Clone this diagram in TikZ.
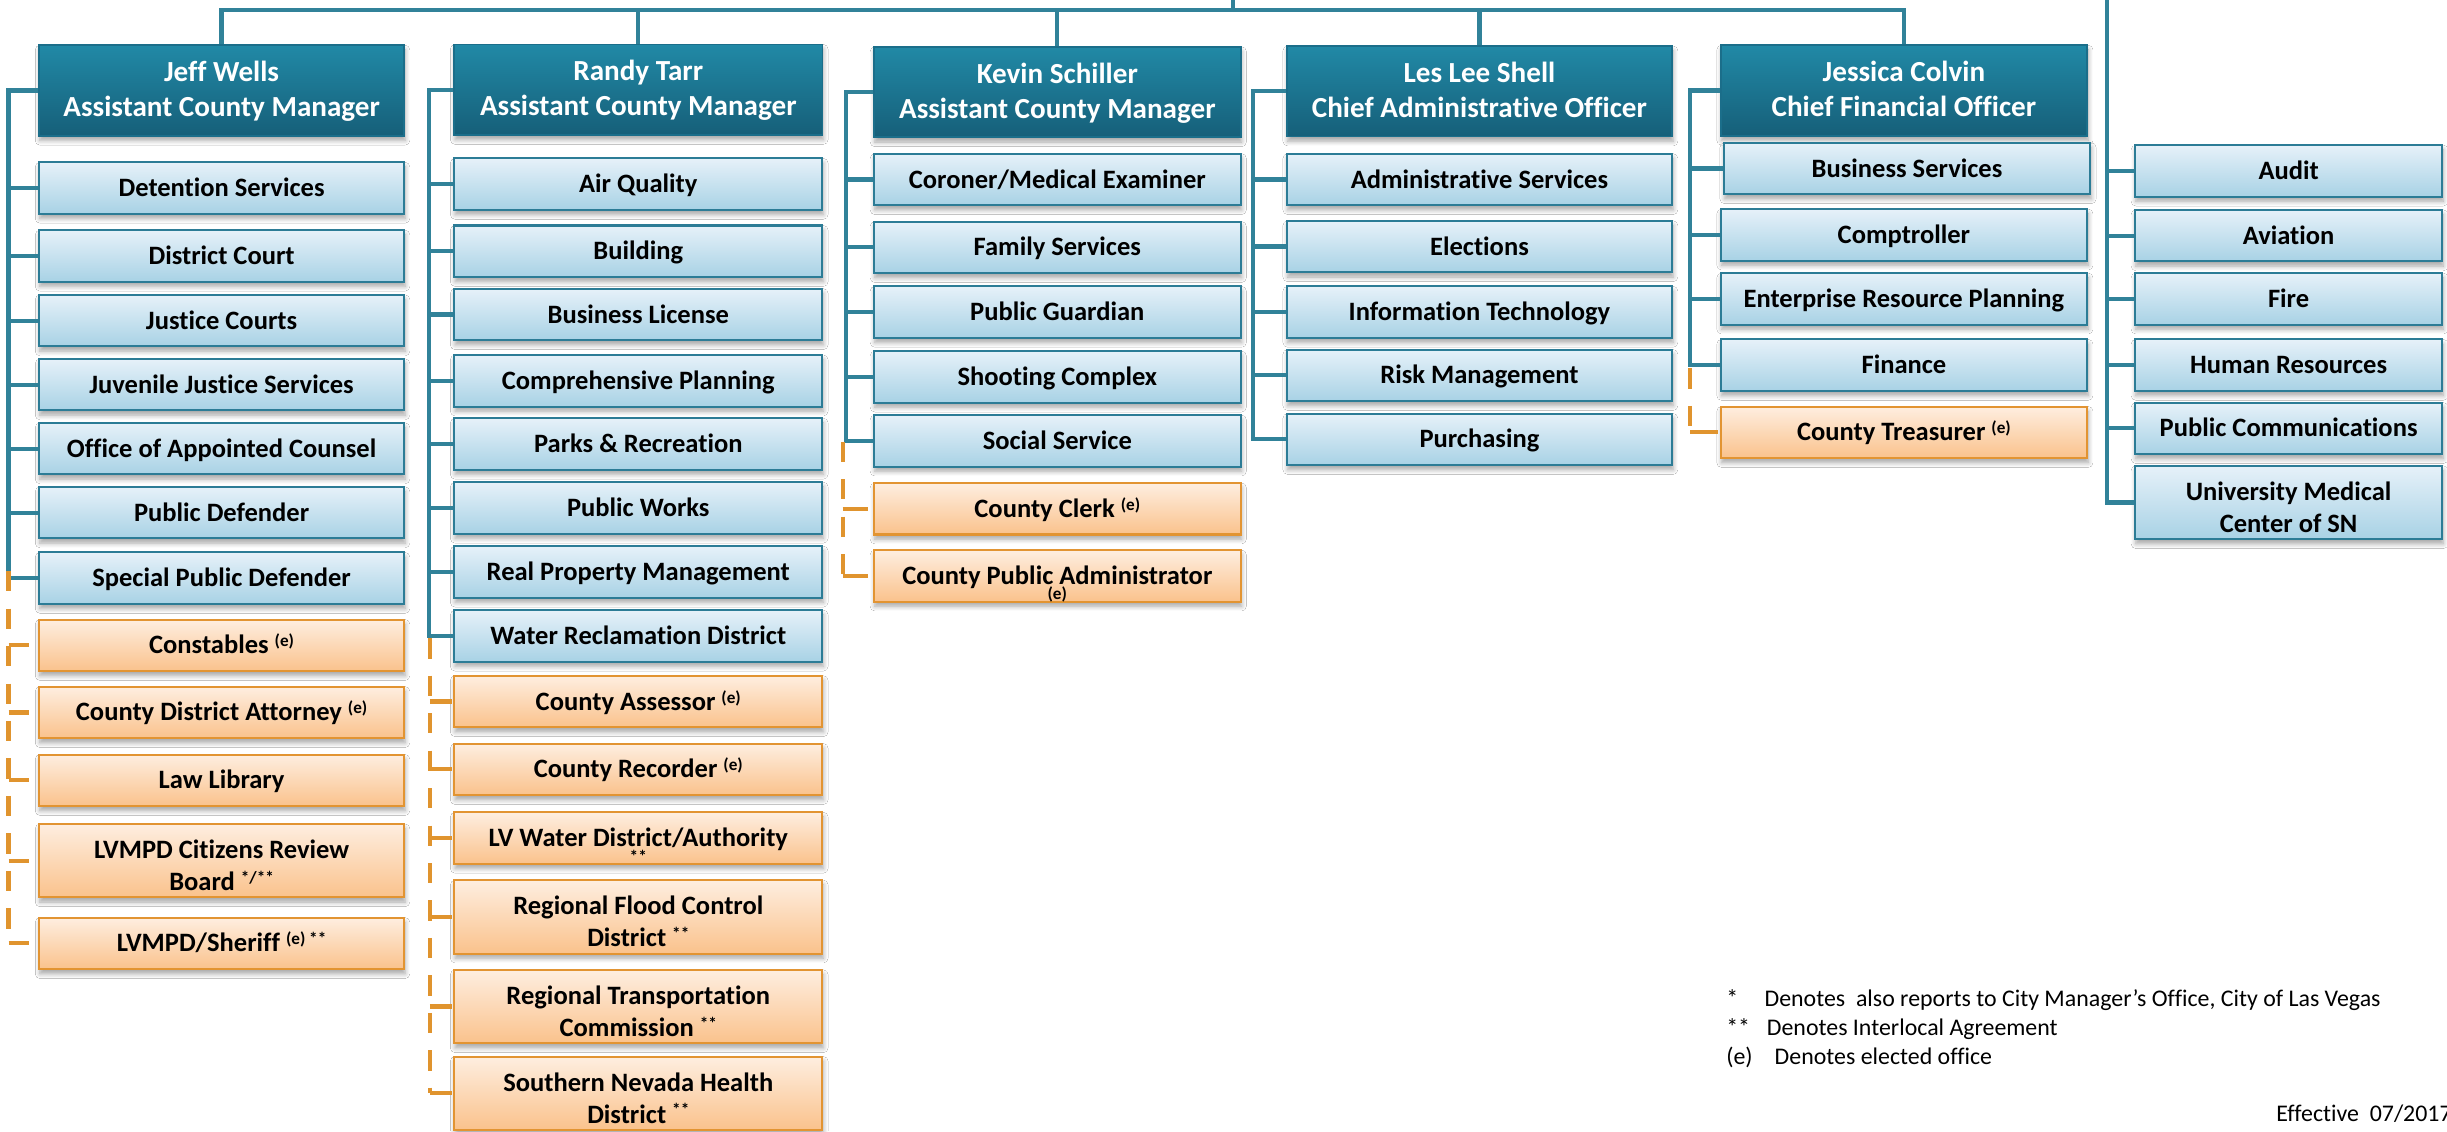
\documentclass[tikz,border=0pt]{standalone}
\usepackage{fontspec}
\setmainfont{Carlito}[Ligatures=NoCommon]
\usetikzlibrary{shadows.blur,calc}
\definecolor{hdrtop}{RGB}{33,137,166}
\definecolor{hdrbot}{RGB}{22,95,121}
\definecolor{hdrline}{RGB}{27,110,138}
\definecolor{subtop}{RGB}{230,241,249}
\definecolor{subbot}{RGB}{168,210,229}
\definecolor{subline}{RGB}{44,124,150}
\definecolor{eletop}{RGB}{254,238,224}
\definecolor{elebot}{RGB}{250,194,140}
\definecolor{eleline}{RGB}{226,148,50}
\definecolor{conblue}{RGB}{49,130,153}
\definecolor{conorange}{RGB}{224,148,46}
\newcommand\supx[1]{\raisebox{4.5pt}{\fontsize{11}{12}\selectfont #1}}
\newcommand\subx[1]{{\fontsize{11}{12}\selectfont #1}}
\tikzset{
  boxbase/.style={rectangle, inner sep=0pt, align=center,
    blur shadow={shadow xshift=0.6pt, shadow yshift=-3pt, shadow blur radius=3pt, shadow blur steps=6, shadow opacity=35}},
  hdr/.style={boxbase, draw=hdrline, line width=1.2pt, top color=hdrtop, bottom color=hdrbot,
    text=white, font=\fontsize{18.66}{22.4}\selectfont\bfseries, text height=33.6pt, text depth=0pt, minimum height=58pt},
  one/.style={boxbase, draw=subline, line width=1.3pt, top color=subtop, bottom color=subbot,
    text=black, font=\fontsize{17}{20.3}\selectfont\bfseries, text height=11pt, text depth=0pt, minimum height=33pt},
  two/.style={one, text height=38.2pt, text depth=0pt, minimum height=47pt},
  under/.style={text height=30.8pt, text depth=0pt},
  ele/.style={draw=eleline, top color=eletop, bottom color=elebot},
  cJ/.style={minimum width=234pt},
  cR/.style={minimum width=236pt},
  cK/.style={minimum width=235pt},
  cL/.style={minimum width=247pt},
  cC/.style={minimum width=235pt},
  cA/.style={minimum width=197pt},
  conn/.style={draw=conblue, line width=2.7pt},
  dconn/.style={draw=conorange, line width=2.7pt, dash pattern=on 13pt off 11pt},
  ostub/.style={draw=conorange, line width=2.7pt},
  legend/.style={inner sep=0pt, font=\fontsize{15.3}{19}\selectfont, text=black},
}
\begin{document}
\begin{tikzpicture}[x=1pt,y=-1pt]
\useasboundingbox (0,0) rectangle (1568,725);
\fill[white] (0,0) rectangle (1568,725);

% coordinates
\coordinate (bar) at (0,6.5);
\coordinate (mgr) at (790,0);
\coordinate (rsp) at (1350,0);
\coordinate (spJ) at (5.5,0);
\coordinate (spR) at (275,0);
\coordinate (spK) at (542,0);
\coordinate (spL) at (803,0);
\coordinate (spC) at (1083,0);
\coordinate (oJ) at (5.5,366);
\coordinate (oR) at (275.5,409);
\coordinate (oK) at (540,283);
\coordinate (oC) at (1083,236);

% headers
\node[hdr, cJ] (jw) at (142,58) {Jeff Wells\\Assistant County Manager};
\node[hdr, cR] (rt) at (409,57.5) {Randy Tarr\\Assistant County Manager};
\node[hdr, cK] (ks) at (677.5,59) {Kevin Schiller\\Assistant County Manager};
\node[hdr, cL] (ls) at (948,58.5) {Les Lee Shell\\Chief Administrative Officer};
\node[hdr, cC] (jc) at (1220,58) {Jessica Colvin\\Chief Financial Officer};

% Jeff Wells column
\node[one, cJ] (det) at (142,120.5) {Detention Services};
\node[one, cJ] (dcrt) at (142,164) {District Court};
\node[one, cJ] (jcts) at (142,205.5) {Justice Courts};
\node[one, cJ] (jjs) at (142,246.5) {Juvenile Justice Services};
\node[one, cJ] (oac) at (142,287.5) {Office of Appointed Counsel};
\node[one, cJ] (pd) at (142,328.5) {Public Defender};
\node[one, cJ] (spd) at (142,370.5) {Special Public Defender};
\node[one, ele, cJ] (con) at (142,413.5) {Constables \supx{(e)}};
\node[one, ele, cJ] (cda) at (142,456.5) {County District Attorney \supx{(e)}};
\node[one, ele, cJ] (llib) at (142,500) {Law Library};
\node[two, ele, cJ] (crb) at (142,551.5) {LVMPD Citizens Review\\Board \supx{*/**}};
\node[one, ele, cJ] (sher) at (142,604.5) {LVMPD/Sheriff \supx{(e) **}};

% Randy Tarr column
\node[one, cR] (aq) at (409,118) {Air Quality};
\node[one, cR] (bld) at (409,161) {Building};
\node[one, cR] (blic) at (409,201.5) {Business License};
\node[one, cR] (cpl) at (409,244) {Comprehensive Planning};
\node[one, cR] (prec) at (409,284.5) {Parks \& Recreation};
\node[one, cR] (pw) at (409,325.5) {Public Works};
\node[one, cR] (rpm) at (409,366.5) {Real Property Management};
\node[one, cR] (wrd) at (409,407.5) {Water Reclamation District};
\node[one, ele, cR] (cas) at (409,449.5) {County Assessor \supx{(e)}};
\node[one, ele, cR] (crec) at (409,493) {County Recorder \supx{(e)}};
\node[one, ele, cR, under] (lvw) at (409,537) {LV Water District/Authority\\[-10.5pt]\subx{**}};
\node[two, ele, cR] (rfc) at (409,587.5) {Regional Flood Control\\District \supx{**}};
\node[two, ele, cR] (rtc) at (409,645) {Regional Transportation\\Commission \supx{**}};
\node[two, ele, cR] (snhd) at (409,700.5) {Southern Nevada Health\\District \supx{**}};

% Kevin Schiller column
\node[one, cK] (cme) at (677.5,115) {Coroner/Medical Examiner};
\node[one, cK] (fsv) at (677.5,158.5) {Family Services};
\node[one, cK] (pgd) at (677.5,200) {Public Guardian};
\node[one, cK] (scx) at (677.5,241.5) {Shooting Complex};
\node[one, cK] (ssv) at (677.5,282.5) {Social Service};
\node[one, ele, cK] (ccl) at (677.5,326) {County Clerk \supx{(e)}};
\node[one, ele, cK, under] (cpa) at (677.5,369) {County Public Administrator\\[-10.3pt]\subx{(e)}};

% Les Lee Shell column
\node[one, cL] (asv) at (948,115) {Administrative Services};
\node[one, cL] (elc) at (948,158) {Elections};
\node[one, cL] (itc) at (948,200) {Information Technology};
\node[one, cL] (rmg) at (948,240.5) {Risk Management};
\node[one, cL] (pur) at (948,281.5) {Purchasing};

% Jessica Colvin column
\node[one, cC] (bsv) at (1222,108) {Business Services};
\node[one, cC] (cmp) at (1220,150.5) {Comptroller};
\node[one, cC] (erp) at (1220,191.5) {Enterprise Resource Planning};
\node[one, cC] (fin) at (1220,234) {Finance};
\node[one, ele, cC] (ctr) at (1220,277) {County Treasurer \supx{(e)}};

% right column
\node[one, cA] (aud) at (1466.5,109.5) {Audit};
\node[one, cA] (avi) at (1466.5,151) {Aviation};
\node[one, cA] (fire) at (1466.5,191.5) {Fire};
\node[one, cA] (hres) at (1466.5,234) {Human Resources};
\node[one, cA] (pcom) at (1466.5,274.5) {Public Communications};
\node[two, cA] (umc) at (1466.5,322) {University Medical\\Center of SN};

% top connectors
\draw[conn] (jw.north) -- (jw.north |- bar) -- (jc.north |- bar) -- (jc.north);
\draw[conn] (mgr) -- (mgr |- bar);
\foreach \n in {rt,ks,ls} \draw[conn] (\n.north) -- (\n.north |- bar);
\draw[conn] (rsp) |- (umc.west);
\foreach \n in {aud,avi,fire,hres,pcom} \draw[conn] (\n.west) -- (\n.west -| rsp);

% Jeff connectors
\draw[conn] (jw.west) -| (spd.west -| spJ) -- (spd.west);
\foreach \n in {det,dcrt,jcts,jjs,oac,pd} \draw[conn] (\n.west) -- (\n.west -| spJ);
\draw[dconn] (oJ) -- (sher.west -| oJ);
\foreach \n in {con,cda,llib,crb,sher} \draw[ostub] (\n.west -| oJ) -- ($(\n.west)+(-6,0)$);

% Randy connectors
\draw[conn] (rt.west) -| (wrd.west -| spR) -- (wrd.west);
\foreach \n in {aq,bld,blic,cpl,prec,pw,rpm} \draw[conn] (\n.west) -- (\n.west -| spR);
\draw[dconn] (oR) -- (snhd.west -| oR);
\foreach \n in {cas,crec,lvw,rfc,rtc,snhd} \draw[ostub] (\n.west -| oR) -- ($(\n.west)+(-1,0)$);

% Kevin connectors
\draw[conn] (ks.west) -| (ssv.west -| spK) -- (ssv.west);
\foreach \n in {cme,fsv,pgd,scx} \draw[conn] (\n.west) -- (\n.west -| spK);
\draw[dconn] (oK) -- (cpa.west -| oK);
\foreach \n in {ccl,cpa} \draw[ostub] (\n.west -| oK) -- ($(\n.west)+(-3,0)$);

% Les connectors
\draw[conn] (ls.west) -| (pur.west -| spL) -- (pur.west);
\foreach \n in {asv,elc,itc,rmg} \draw[conn] (\n.west) -- (\n.west -| spL);

% Jessica connectors
\draw[conn] (jc.west) -| (fin.west -| spC) -- (fin.west);
\foreach \n in {bsv,cmp,erp} \draw[conn] (\n.west) -- (\n.west -| spC);
\draw[dconn] (oC) -- (ctr.west -| oC);
\draw[ostub] (ctr.west -| oC) -- ($(ctr.west)+(-1,0)$);

% legend
\node[legend, anchor=base west] (k1) at (1106,645) {*};
\node[legend, anchor=base west] (t1) at (1130.5,645) {Denotes\ \ also reports to City Manager’s Office, City of Las Vegas};
\node[legend, anchor=base west] (k2) at (1106,663.7) {**};
\node[legend, anchor=base west] (t2) at (1132,663.7) {Denotes Interlocal Agreement};
\node[legend, anchor=base west] (k3) at (1106,682.4) {(e)};
\node[legend, anchor=base west] (t3) at (1137,682.4) {Denotes elected office};
\node[legend, anchor=base west] (eff) at (1458.5,718.7) {Effective\ \ 07/2017};
\end{tikzpicture}
\end{document}
